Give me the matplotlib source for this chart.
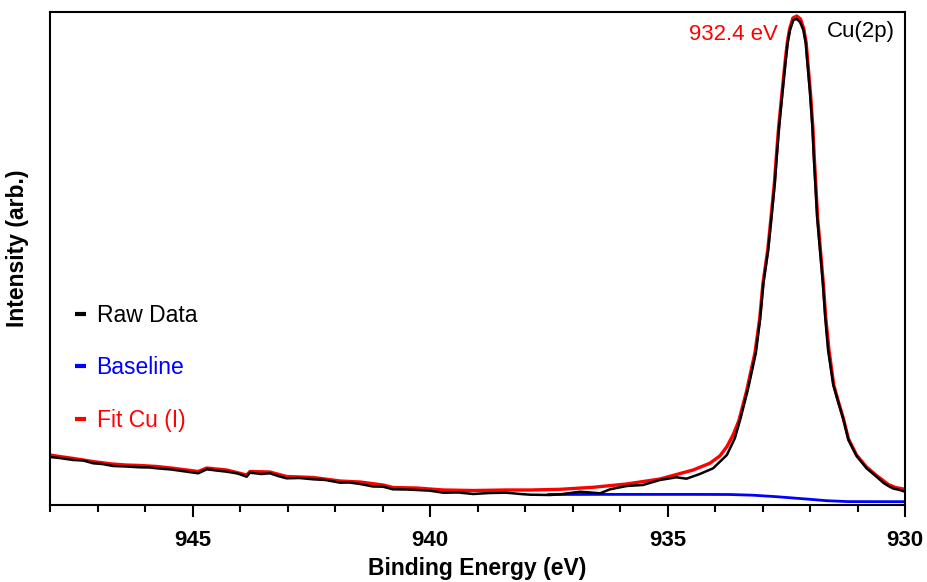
import matplotlib
matplotlib.use("Agg")
import matplotlib.pyplot as plt
from matplotlib.ticker import MultipleLocator

# binding energy (eV) and intensity (arb.)
raw_ev = [948.00, 947.80, 947.51, 947.30, 947.09, 946.90, 946.67, 946.40, 946.11, 945.90,
          945.75, 945.45, 945.12, 944.88, 944.70, 944.50, 944.28, 944.05, 943.86, 943.79,
          943.55, 943.37, 943.20, 943.02, 942.75, 942.46, 942.20, 941.89, 941.70, 941.47,
          941.20, 940.99, 940.78, 940.50, 940.28, 940.00, 939.72, 939.40, 939.09, 938.75,
          938.39, 938.10, 937.89, 937.47, 937.26, 936.84, 936.42, 936.21, 935.86, 935.52,
          935.16, 934.81, 934.60, 934.32, 934.04, 933.75, 933.58, 933.46, 933.30, 933.14,
          933.05, 932.98, 932.88, 932.81, 932.74, 932.70, 932.65, 932.58, 932.51, 932.47,
          932.42, 932.35, 932.28, 932.21, 932.14, 932.09, 932.06, 932.00, 931.95, 931.92,
          931.85, 931.79, 931.73, 931.68, 931.62, 931.51, 931.40, 931.30, 931.19, 931.02,
          930.81, 930.60, 930.45, 930.35, 930.25, 930.11, 930.00]
raw_int = [48, 47, 45, 44.5, 41.7, 41, 39, 38.5, 37.7, 37.5,
           36.7, 35.5, 33.3, 31.7, 35.7, 34.5, 33.3, 31.5, 28.3, 32.3,
           31, 31.7, 29, 26.7, 27, 25.7, 25, 22.3, 22.5, 21,
           18.5, 18.3, 15.7, 15.5, 15, 14.3, 12.3, 12.5, 11, 12,
           12.3, 11, 10.3, 10, 10.7, 13.3, 11.7, 15.7, 19, 20,
           25, 27.7, 26.3, 31, 36.7, 50, 67, 87, 117, 152,
           186, 222, 255, 288, 322, 348, 378, 412, 445, 462,
           475, 485, 486, 483, 475, 462, 445, 412, 378, 348,
           288, 255, 222, 188, 155, 120, 102, 86, 65, 49,
           36.7, 28.3, 22, 19, 16.5, 15, 13.3]

base_ev = [937.50, 936.50, 935.50, 934.50, 933.70, 933.20, 932.70, 932.30, 932.00, 931.65,
           931.20, 930.00]
base_int = [10.5, 10.6, 10.6, 10.6, 10.5, 9.8, 8.3, 6.8, 5.7, 4.3,
            3.4, 3.3]

fit_ev = [948.00, 947.80, 947.50, 947.10, 946.70, 946.40, 946.10, 945.75, 945.45, 945.12,
          944.88, 944.70, 944.50, 944.28, 943.86, 943.79, 943.37, 943.02, 942.46, 941.89,
          941.47, 940.99, 940.78, 940.28, 940.00, 939.72, 939.09, 938.39, 937.89, 937.26,
          936.57, 935.86, 935.16, 934.46, 934.11, 933.90, 933.75, 933.62, 933.50, 933.34,
          933.16, 933.06, 932.99, 932.89, 932.82, 932.75, 932.71, 932.66, 932.59, 932.52,
          932.48, 932.43, 932.36, 932.28, 932.20, 932.13, 932.08, 932.05, 931.99, 931.94,
          931.91, 931.84, 931.78, 931.72, 931.67, 931.60, 931.50, 931.40, 931.30, 931.19,
          931.02, 930.81, 930.60, 930.35, 930.20, 930.00]
fit_int = [50, 48.5, 46.5, 43.5, 41, 40, 39.5, 38.5, 37, 35,
           33.5, 37, 36, 35, 30, 33.5, 33, 28.5, 27.5, 24,
           23, 20, 17.5, 17, 16, 15, 14.5, 15, 15, 15.7,
           17.7, 21, 26, 35, 41.7, 49, 58.3, 70, 84, 113,
           152, 186, 222, 255, 288, 322, 348, 378, 412, 445,
           462, 476, 487, 489, 486, 476, 462, 445, 412, 378,
           348, 288, 255, 222, 188, 155, 120, 103, 87, 66,
           50, 38, 29.5, 20.5, 17.5, 15.7]

plt.rcParams["font.family"] = ["Liberation Sans", "DejaVu Sans"]

fig = plt.figure(figsize=(9.28, 5.82), dpi=100)
ax = fig.add_axes([50 / 928, 77 / 582, 855 / 928, 493 / 582])

ax.plot(fit_ev, fit_int, color="#ff0000", linewidth=2.4, label="Fit Cu (I)", zorder=2)
ax.plot(base_ev, base_int, color="#0000ff", linewidth=2.0, label="Baseline", zorder=1)
ax.plot(raw_ev, raw_int, color="black", linewidth=1.8, label="Raw Data", zorder=3)

ax.set_xlim(948, 930)
ax.set_ylim(0, 493)

ax.xaxis.set_major_locator(MultipleLocator(5))
ax.xaxis.set_minor_locator(MultipleLocator(1))
ax.tick_params(axis="x", which="major", length=8.5, width=1.5, direction="out", pad=9.5,
               labelsize=16)
ax.tick_params(axis="x", which="minor", length=5, width=1.5, direction="out")
ax.set_yticks([])
for lbl in ax.get_xticklabels():
    lbl.set_fontweight("bold")

for spine in ax.spines.values():
    spine.set_linewidth(1.5)

ax.set_xlabel("Binding Energy (eV)", fontsize=16.5, fontweight="bold", labelpad=4.5)
ax.set_ylabel("Intensity (arb.)", fontsize=16.5, fontweight="bold")
ax.yaxis.set_label_coords(-0.024, 0.52)

# legend: short dashes, text in line colour
h_raw, l_raw = ax.get_legend_handles_labels()
order = [2, 1, 0]
leg = ax.legend([h_raw[i] for i in order], [l_raw[i] for i in order],
                loc="center left", bbox_to_anchor=(0.029, 0.278),
                frameon=False, fontsize=16.5, handlelength=0.5, handletextpad=0.45,
                labelspacing=1.28, borderpad=0, borderaxespad=0, labelcolor="linecolor")
for h in leg.legend_handles:
    h.set_linewidth(3)
    h.set_solid_capstyle("butt")

ax.text(932.67, 470, "932.4 eV", color="#ff0000", fontsize=16, ha="right", va="center")
ax.text(931.64, 474, "Cu(2p)", color="black", fontsize=16, ha="left", va="center")

plt.savefig("out.png", dpi=100)
plt.close()
